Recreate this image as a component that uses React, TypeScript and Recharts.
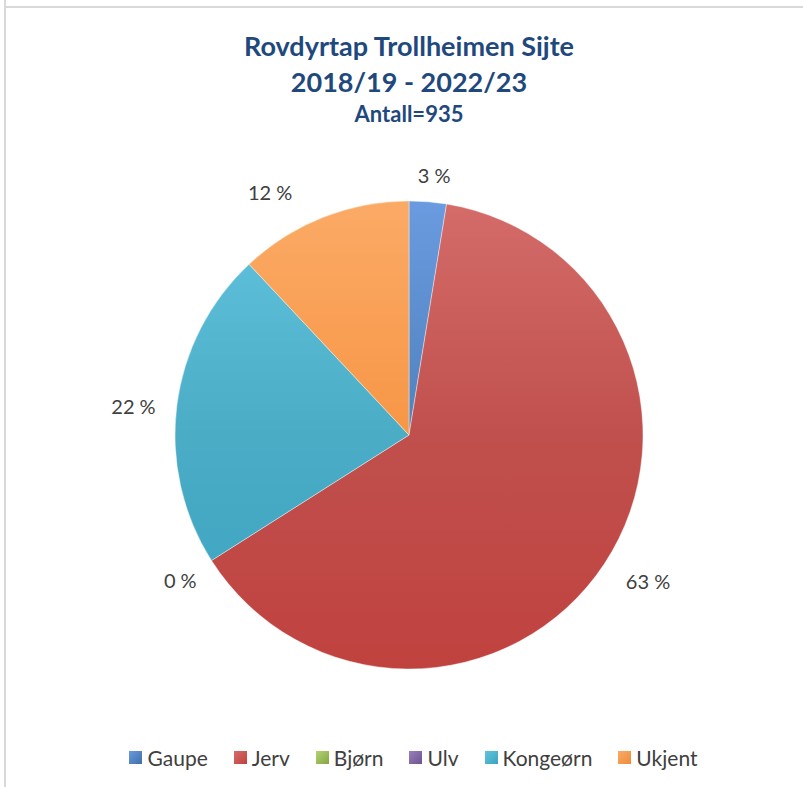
import React from 'react';
import { PieChart, Pie, Cell, Legend } from 'recharts';

// Rovdyrtap Trollheimen Sijte, 2018/19 - 2022/23 (antall = 935)
const categories = ['Gaupe', 'Jerv', 'Bjørn', 'Ulv', 'Kongeørn', 'Ukjent'];
const losses = [24, 593, 0, 0, 206, 112];
const colors = ['#4F81BD', '#C0504D', '#9BBB59', '#8064A2', '#4BACC6', '#F79646'];
const lightColors = ['#6a9be0', '#d46c69', '#b3d374', '#9a80bb', '#62c4de', '#fbaa66'];
const darkColors = ['#3f6ea8', '#c0423f', '#86a644', '#6c528f', '#3aa3c0', '#ee8c3a'];

const titleLines = ['Rovdyrtap Trollheimen Sijte', '2018/19 - 2022/23'];
const subTitle = 'Antall=935';

const data = categories.map((name, i) => ({ name, value: losses[i] }));

// small nudges so the labels sit where Excel's "best fit" put them
const labelNudge: Record<string, [number, number]> = {
  Gaupe: [4, 2],
  Jerv: [9, -6],
  Ukjent: [-40, 7],
  Kongeørn: [-3, 6],
};

const FONT = 'Lato, "Open Sans", sans-serif';
const RAD = Math.PI / 180;

const renderLabel = (props: any) => {
  const { cx, cy, midAngle, outerRadius, percent, index } = props;
  // two zero slices share the same spot, draw that label once
  if (losses[index] === 0 && index > 0 && losses[index - 1] === 0) return null;
  const text = `${Math.round(percent * 100)} %`;
  const s = Math.cos(-midAngle * RAD);
  const c = Math.sin(-midAngle * RAD);
  const halfW = text.length * 20 * 0.27;
  const halfH = 10;
  const r = outerRadius + 18 + halfW * Math.abs(s) + halfH * Math.abs(c);
  const [nx, ny] = labelNudge[categories[index]] || [0, 0];
  const x = cx + r * s + nx;
  const y = cy + r * c + ny;
  return (
    <text x={x} y={y} textAnchor="middle" dominantBaseline="central" fill="#404040" fontSize={20} fontFamily={FONT}>
      {text}
    </text>
  );
};

const renderLegend = () => (
  <div
    style={{
      display: 'flex',
      justifyContent: 'center',
      gap: 26,
      paddingLeft: 24,
      fontFamily: FONT,
      fontSize: 21,
      color: '#404040',
    }}
  >
    {categories.map((name, i) => (
      <div key={name} style={{ display: 'flex', alignItems: 'center' }}>
        <span
          style={{
            width: 13,
            height: 13,
            marginRight: 5,
            background: `linear-gradient(135deg, ${lightColors[i]}, ${darkColors[i]})`,
            display: 'inline-block',
          }}
        />
        {name}
      </div>
    ))}
  </div>
);

export default function App() {
  return (
    <div style={{ position: 'absolute', top: 0, left: 0, width: 803, height: 787, background: '#fff' }}>
      <div style={{ position: 'absolute', left: 4, top: 0, width: 2, height: 787, background: '#d9d9d9' }} />
      <div style={{ position: 'absolute', left: 4, top: 6, width: 799, height: 2, background: '#d9d9d9' }} />
      <div
        style={{
          position: 'absolute',
          top: 28,
          left: 0,
          width: 818,
          textAlign: 'center',
          fontFamily: FONT,
          fontWeight: 'bold',
          color: '#1F497D',
        }}
      >
        {titleLines.map((t) => (
          <div key={t} style={{ fontSize: 27, lineHeight: '36px' }}>
            {t}
          </div>
        ))}
        <div style={{ fontSize: 22, lineHeight: '28px' }}>{subTitle}</div>
      </div>
      <PieChart width={803} height={787} style={{ position: 'absolute', top: 0, left: 0 }}>
        <defs>
          {colors.map((col, i) => (
            <linearGradient key={col} id={`g${i}`} gradientUnits="userSpaceOnUse" x1={0} y1={201} x2={0} y2={669}>
              <stop offset="0%" stopColor={lightColors[i]} />
              <stop offset="50%" stopColor={col} />
              <stop offset="100%" stopColor={darkColors[i]} />
            </linearGradient>
          ))}
        </defs>
        <Pie
          data={data}
          dataKey="value"
          nameKey="name"
          cx={404}
          cy={430}
          outerRadius={234}
          startAngle={90}
          endAngle={-270}
          label={renderLabel}
          labelLine={false}
          isAnimationActive={false}
          stroke="rgba(255,255,255,0.4)"
          strokeWidth={1}
        >
          {data.map((d, i) => (
            <Cell key={d.name} fill={`url(#g${i})`} />
          ))}
        </Pie>
        <Legend content={renderLegend} verticalAlign="bottom" wrapperStyle={{ bottom: 17 }} />
      </PieChart>
    </div>
  );
}
